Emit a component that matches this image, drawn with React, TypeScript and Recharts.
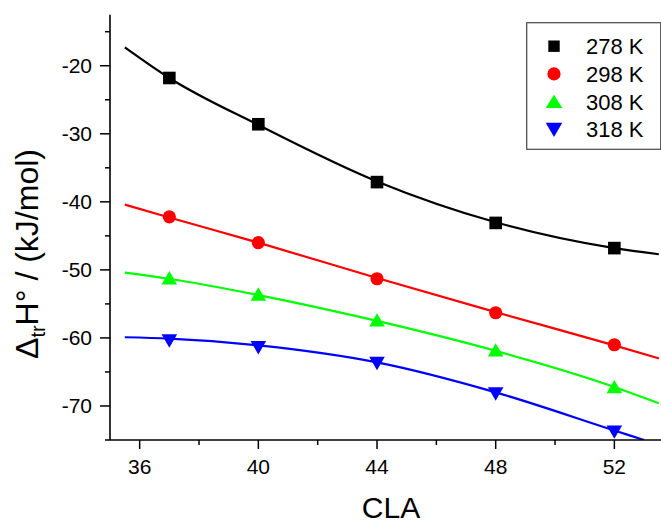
import React from 'react';
import { ComposedChart, Line, Scatter, XAxis, YAxis, Customized } from 'recharts';

// Measured points (CLA vs ΔtrH°)
const CLA = [37, 40, 44, 48, 52];
const dH278 = [-21.8, -28.6, -37.1, -43.1, -46.8];
const dH298 = [-42.2, -46.0, -51.3, -56.3, -61.0];
const dH308 = [-51.3, -53.7, -57.5, -61.9, -67.3];
const dH318 = [-60.3, -61.3, -63.6, -68.1, -73.7];

// Fitted curves
const fitX = [35.5, 37, 40, 44, 48, 52, 53.5];
const fit278 = [-17.3, -21.8, -28.7, -37.0, -43.0, -46.8, -47.7];
const fit298 = [-40.4, -42.3, -46.0, -51.2, -56.2, -61.1, -63.0];
const fit308 = [-50.4, -51.3, -53.7, -57.5, -61.9, -67.2, -69.6];
const fitX318 = [35.5, 37, 40, 44, 48, 52, 53.0];
const fit318 = [-59.9, -60.1, -61.1, -63.6, -68.0, -73.6, -75.0];

const seriesNames = ['278 K', '298 K', '308 K', '318 K'];
const seriesColors = ['#000000', '#ff0000', '#00ff00', '#0000ff'];

const xTicks = [36, 38, 40, 42, 44, 46, 48, 50, 52, 54];
const xMajor = [36, 40, 44, 48, 52];
const yTicks = [-75, -70, -65, -60, -55, -50, -45, -40, -35, -30, -25, -20, -15];
const yMajor = [-70, -60, -50, -40, -30, -20];

const FONT = "Arial, 'Liberation Sans', Helvetica, sans-serif";

const toPts = (xs: number[], ys: number[]) => xs.map((x, i) => ({ x, y: ys[i] }));

const XTick = (props: any) => {
  const { x, y, payload } = props;
  const v = payload.value;
  const major = xMajor.includes(v);
  return (
    <g>
      <line x1={x} x2={x} y1={y} y2={y + (major ? 9 : 5)} stroke="#000" strokeWidth={1.5} />
      {major && (
        <text x={x} y={y + 34} textAnchor="middle" fontSize={21} fontFamily={FONT} fill="#000">
          {String(v)}
        </text>
      )}
    </g>
  );
};

const YTick = (props: any) => {
  const { x, y, payload } = props;
  const v = payload.value;
  const major = yMajor.includes(v);
  return (
    <g>
      <line x1={x - (major ? 10 : 5)} x2={x} y1={y} y2={y} stroke="#000" strokeWidth={1.5} />
      {major && (
        <text x={x - 18} y={y + 7.5} textAnchor="end" fontSize={21} fontFamily={FONT} fill="#000">
          {String(v)}
        </text>
      )}
    </g>
  );
};

const Square = (p: any) => <rect x={p.cx - 6.3} y={p.cy - 6.3} width={12.6} height={12.6} fill="#000" />;
const Circle = (p: any) => <circle cx={p.cx} cy={p.cy} r={6.6} fill="#ff0000" />;
const TriUp = (p: any) => (
  <polygon points={`${p.cx - 7.8},${p.cy + 5.7} ${p.cx + 7.8},${p.cy + 5.7} ${p.cx},${p.cy - 7.7}`} fill="#00ff00" />
);
const TriDown = (p: any) => (
  <polygon points={`${p.cx - 7.8},${p.cy - 5.7} ${p.cx + 7.8},${p.cy - 5.7} ${p.cx},${p.cy + 7.7}`} fill="#0000ff" />
);

const legendMarker = (i: number, cx: number, cy: number) => {
  if (i === 0) return <rect x={cx - 5.7} y={cy - 5.7} width={11.4} height={11.4} fill="#000" />;
  if (i === 1) return <circle cx={cx} cy={cy} r={6.6} fill="#ff0000" />;
  if (i === 2)
    return <polygon points={`${cx - 8.3},${cy + 6.5} ${cx + 8.3},${cy + 6.5} ${cx},${cy - 6.8}`} fill="#00ff00" />;
  return <polygon points={`${cx - 8.3},${cy - 6.5} ${cx + 8.3},${cy - 6.5} ${cx},${cy + 7.8}`} fill="#0000ff" />;
};

const Decorations = () => {
  const rows = [46.2, 73.9, 101.6, 129.3];
  return (
    <g>
      <rect x={526.7} y={22.7} width={134} height={126.6} fill="#fff" stroke="#555" strokeWidth={1.3} />
      {seriesNames.map((n, i) => (
        <g key={n}>
          {legendMarker(i, 554, rows[i])}
          <text x={586} y={rows[i] + 7.9} fontSize={22} fontFamily={FONT} fill="#000">
            {n}
          </text>
        </g>
      ))}
      <text
        transform="translate(38,254) rotate(-90)"
        x={0}
        y={0}
        textAnchor="middle"
        fontSize={32}
        fontFamily={FONT}
        fill="#000"
      >
        <tspan>Δ</tspan>
        <tspan fontSize={20} dy={7}>tr</tspan>
        <tspan dy={-7}>H° / (kJ/mol)</tspan>
      </text>
      <text x={391} y={518} textAnchor="middle" fontSize={30} fontFamily={FONT} fill="#000">
        CLA
      </text>
    </g>
  );
};

export default function App() {
  return (
    <div style={{ position: 'absolute', left: 0, top: 0, width: 661, height: 524, overflow: 'hidden', background: '#fff' }}>
      <ComposedChart width={680} height={524} margin={{ top: 14.7, right: 6.3, bottom: 0, left: 50 }}>
        <XAxis
          xAxisId={0}
          type="number"
          dataKey="x"
          domain={[35, 54]}
          ticks={xTicks}
          interval={0}
          tickSize={0}
          tickMargin={0}
          tickLine={false}
          tick={<XTick />}
          axisLine={{ stroke: '#000', strokeWidth: 1.6 }}
          height={84}
          allowDataOverflow
        />
        <XAxis
          xAxisId="top"
          orientation="top"
          type="number"
          dataKey="x"
          domain={[35, 54]}
          tick={false}
          tickLine={false}
          axisLine={{ stroke: '#000', strokeWidth: 1.6 }}
          height={0}
        />
        <YAxis
          type="number"
          dataKey="y"
          domain={[-75, -12.5]}
          ticks={yTicks}
          interval={0}
          tickSize={0}
          tickMargin={0}
          tickLine={false}
          tick={<YTick />}
          axisLine={{ stroke: '#000', strokeWidth: 1.6 }}
          width={60}
          allowDataOverflow
        />
        <Line data={toPts(fitX, fit278)} dataKey="y" type="monotone" stroke={seriesColors[0]} strokeWidth={2.2} dot={false} isAnimationActive={false} />
        <Line data={toPts(fitX, fit298)} dataKey="y" type="monotone" stroke={seriesColors[1]} strokeWidth={2.2} dot={false} isAnimationActive={false} />
        <Line data={toPts(fitX, fit308)} dataKey="y" type="monotone" stroke={seriesColors[2]} strokeWidth={2.2} dot={false} isAnimationActive={false} />
        <Line data={toPts(fitX318, fit318)} dataKey="y" type="monotone" stroke={seriesColors[3]} strokeWidth={2.2} dot={false} isAnimationActive={false} />
        <Scatter data={toPts(CLA, dH278)} dataKey="y" shape={Square} isAnimationActive={false} />
        <Scatter data={toPts(CLA, dH298)} dataKey="y" shape={Circle} isAnimationActive={false} />
        <Scatter data={toPts(CLA, dH308)} dataKey="y" shape={TriUp} isAnimationActive={false} />
        <Scatter data={toPts(CLA, dH318)} dataKey="y" shape={TriDown} isAnimationActive={false} />
        <Customized component={Decorations} />
      </ComposedChart>
    </div>
  );
}
